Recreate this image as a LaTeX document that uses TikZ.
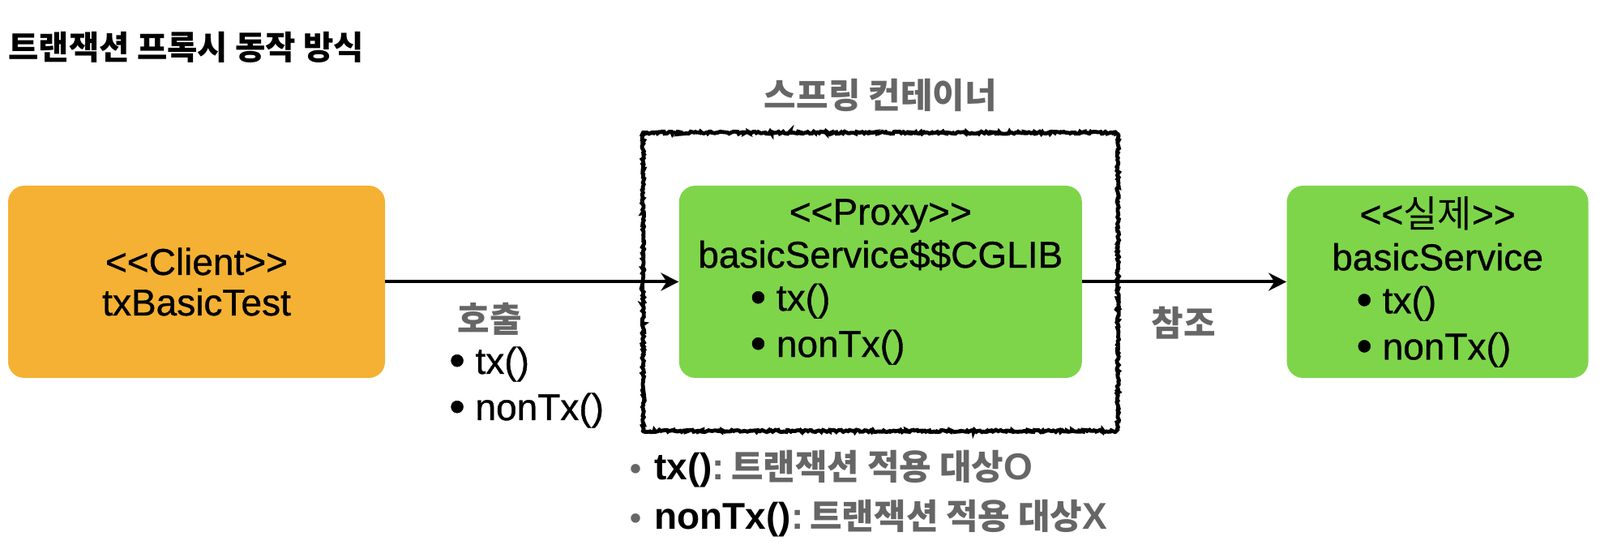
\documentclass[tikz,border=0pt]{standalone}
\usepackage{fontspec}
\setmainfont{Liberation Sans}[UprightFeatures={FakeBold=0.8}]
\newfontfamily\kr{Noto Sans CJK KR}
\usepackage{xcolor}
\usepackage{tikz}
\usetikzlibrary{arrows.meta,positioning,fit,calc,decorations.pathmorphing}

\definecolor{clientorange}{RGB}{244,177,51}
\definecolor{beangreen}{RGB}{126,213,74}
\definecolor{notegray}{RGB}{102,102,102}
\newcommand{\stereo}[1]{<\kern0pt<#1>\kern0pt>}
\newcommand{\blt}{\raisebox{-1pt}{\scalebox{1.2}{\textbullet}}}
\newcommand{\boxfont}{\fontsize{23}{26.5}\selectfont\setlength{\lineskiplimit}{-20pt}}

\begin{document}
\begin{tikzpicture}[
  box/.style={rounded corners=10pt, minimum height=118.5pt, align=center, inner sep=0pt, font=\boxfont},
  client/.style={box, fill=clientorange, minimum width=232.5pt},
  bean/.style={box, fill=beangreen},
  lbl/.style={text=notegray, inner sep=0pt, font=\kr\bfseries\fontsize{21.5}{24}\selectfont},
  item/.style={inner sep=0pt, anchor=base west, font=\fontsize{23}{27}\selectfont},
  note/.style={inner sep=0pt, anchor=base west, font=\bfseries\fontsize{23}{26}\selectfont},
  arr/.style={-{Stealth[length=11pt, width=11pt]}, line width=2pt},
  sketch/.style={draw, line width=2.4pt, decorate, decoration={random steps, segment length=1pt, amplitude=0.7pt}}
]
\useasboundingbox (0,0) rectangle (987pt,-336pt);

\node[anchor=west, inner sep=0pt, font=\kr\bfseries\fontsize{20.3}{24}\selectfont] (title) at (5pt,-29pt) {트랜잭션 프록시 동작 방식};

\node[client] (client) at (121.25pt,-173.75pt) {\stereo{Client}\\[-1.5pt]txBasicTest};
\node[bean, minimum width=248.5pt, right=181pt of client] (proxy) {\stereo{Proxy}\\basicService\$\$CGLIB\\
  \makebox[160.5pt][l]{\blt\ tx()}\\[2pt]\makebox[160.5pt][l]{\blt\ nonTx()}};
\node[bean, minimum width=186pt, right=126pt of proxy] (real) {\stereo{{\kr 실제}}\\basicService\\
  \makebox[100pt][l]{\blt\ tx()}\\[2pt]\makebox[100pt][l]{\blt\ nonTx()}};

\node[sketch, fit=(proxy), inner xsep=22pt, inner ysep=32.5pt] (container) {};
\node[lbl] (containerlbl) at ($(container.north)+(0,22pt)$) {스프링 컨테이너};

\draw[arr] (client) -- (proxy);
\draw[arr] (proxy) -- (real);

% calls from the client
\node[lbl] (calllbl) at (302pt,-196.5pt) {호출};
\node[item] (calltx) at (277pt,-230.5pt) {\blt\ tx()};
\node[item] (callnontx) at (277pt,-259pt) {\blt\ nonTx()};

\node[lbl] (reflbl) at (730pt,-199pt) {참조};

% which methods get a transaction
\node[note] (notetx) at (388.5pt,-296pt) {{\color{notegray}\fontsize{20}{24}\selectfont\textbullet}\hspace{8pt}tx()\textcolor{notegray}{:\hspace{4pt}{\kr\bfseries\fontsize{21.5}{24}\selectfont 트랜잭션 적용 대상}O}};
\node[note] (notenontx) at (388.5pt,-326.5pt) {{\color{notegray}\fontsize{20}{24}\selectfont\textbullet}\hspace{8pt}nonTx()\textcolor{notegray}{:\hspace{4pt}{\kr\bfseries\fontsize{21.5}{24}\selectfont 트랜잭션 적용 대상}X}};
\end{tikzpicture}
\end{document}
